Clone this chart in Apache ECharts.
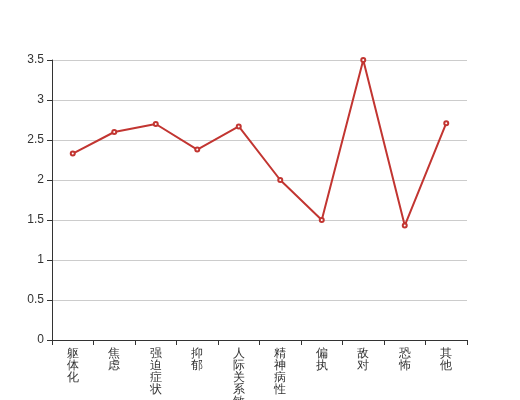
<!DOCTYPE html>
<html><head><meta charset="utf-8">
<script src="https://cdn.jsdelivr.net/npm/echarts@6/dist/echarts.min.js"></script>
<style>html,body{margin:0;padding:0;background:#fff}#c{width:520px;height:400px}</style>
</head><body><div id="c"></div>
<script>
const categories = ['躯体化','焦虑','强迫症状','抑郁','人际关系敏感','精神病性','偏执','敌对','恐怖','其他'];
const values = [2.33, 2.6, 2.7, 2.38, 2.67, 2.0, 1.5, 3.5, 1.43, 2.71];
const chart = echarts.init(document.getElementById('c'));
chart.setOption({
  animation: false,
  grid: {left: 52, right: 53, top: 60, bottom: 60, containLabel: false, outerBoundsMode: 'none'},
  xAxis: {
    type: 'category', data: categories, boundaryGap: true,
    axisLine: {lineStyle: {color: '#333'}},
    axisTick: {show: true, lineStyle: {color: '#333'}},
    axisLabel: {interval: 0, color: '#333', fontSize: 12, lineHeight: 12, margin: 8,
      formatter: v => v.split('').join('\n')}
  },
  yAxis: {
    type: 'value', min: 0, max: 3.5, interval: 0.5,
    axisLine: {show: true, lineStyle: {color: '#333'}},
    axisTick: {show: true, lineStyle: {color: '#333'}},
    axisLabel: {color: '#333', fontSize: 12},
    splitLine: {lineStyle: {color: '#ccc'}}
  },
  series: [{
    type: 'line', data: values,
    symbol: 'emptyCircle', symbolSize: 4,
    lineStyle: {color: '#c23531', width: 2},
    itemStyle: {color: '#c23531'}
  }]
});
</script></body></html>
